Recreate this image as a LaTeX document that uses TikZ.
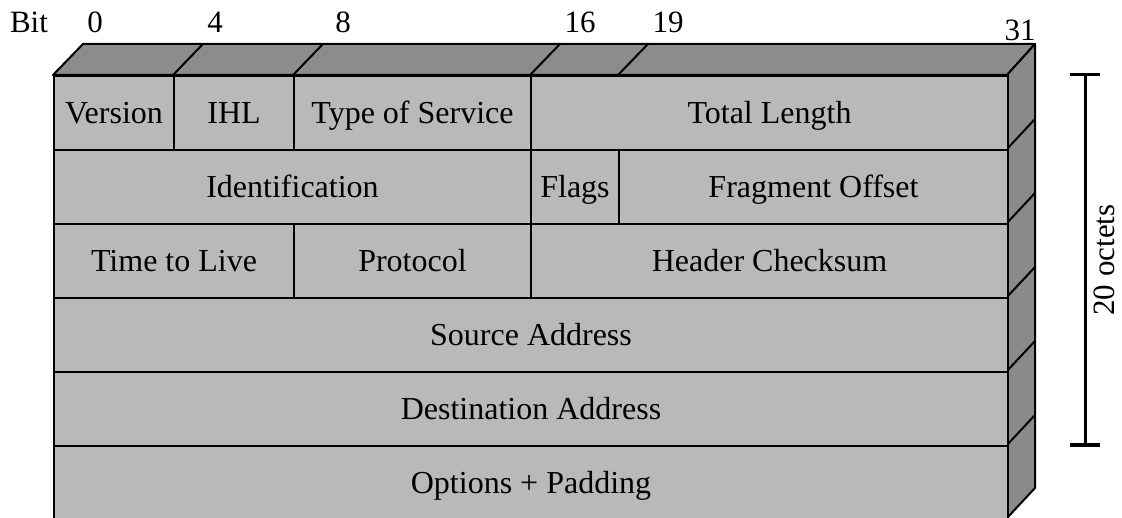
\documentclass[tikz,border=0pt]{standalone}
\usepackage{fontspec}
\setmainfont{Liberation Serif}
\definecolor{frontgray}{RGB}{185,185,185}
\definecolor{topgray}{RGB}{140,140,140}
\definecolor{sidegray}{RGB}{138,138,138}
\tikzset{
  cell/.style={draw=black, line width=2pt, fill=frontgray, anchor=north west,
    minimum height=74pt, inner sep=0pt, text height=24pt, text depth=3pt,
    font=\fontsize{32}{36}\selectfont},
  face/.style={draw=black, line width=2pt, line join=round},
  lbl/.style={font=\fontsize{31}{36}\selectfont, inner sep=0pt, text height=21pt, text depth=0pt},
}
\begin{document}
\begin{tikzpicture}[x=1pt,y=-1pt]
\useasboundingbox (0,0) rectangle (1122,518);
% top face
\draw[face, fill=topgray] (53,75) -- (83,44) -- (1035,44) -- (1007,75) -- cycle;
\foreach \xx in {173,293,530,618} \draw[face] (\xx,75) -- (\xx+30,44);
% right face
\draw[face, fill=sidegray] (1007,75) -- (1035,44) -- (1035,488) -- (1007,518) -- cycle;
\foreach \yy in {149,223,297,371,445} \draw[face] (1007,\yy) -- (1035,\yy-30);
% row 1
\node[cell, minimum width=120pt] (ver) at (53,75) {Version};
\node[cell, minimum width=120pt] (ihl) at (173,75) {IHL};
\node[cell, minimum width=237pt] (tos) at (293,75) {Type of Service};
\node[cell, minimum width=477pt] (tlen) at (530,75) {Total Length};
% row 2
\node[cell, minimum width=477pt] (ident) at (53,149) {Identification};
\node[cell, minimum width=88pt] (flags) at (530,149) {Flags};
\node[cell, minimum width=389pt] (frag) at (618,149) {Fragment Offset};
% row 3
\node[cell, minimum width=240pt] (ttl) at (53,223) {Time to Live};
\node[cell, minimum width=237pt] (proto) at (293,223) {Protocol};
\node[cell, minimum width=477pt] (csum) at (530,223) {Header Checksum};
% rows 4-6
\node[cell, minimum width=954pt] (src) at (53,297) {Source Address};
\node[cell, minimum width=954pt] (dst) at (53,371) {Destination Address};
\node[cell, minimum width=954pt] (opt) at (53,445) {Options + Padding};
% bit labels
\node[lbl] (bit) at (29,22) {Bit};
\node[lbl] (b0) at (95,22) {0};
\node[lbl] (b4) at (215,22) {4};
\node[lbl] (b8) at (343,22) {8};
\node[lbl] (b16) at (580,22) {16};
\node[lbl] (b19) at (668,22) {19};
\node[lbl] (b31) at (1020,30) {31};
% bracket
\coordinate (bt) at (1085,75);
\coordinate (bb) at (1085,445);
\draw[line width=3pt] (bt) -- (bb);
\draw[line width=3pt] ([xshift=-15pt]bt) -- ([xshift=15pt]bt);
\draw[line width=3pt] ([xshift=-15pt]bb) -- ([xshift=15pt]bb);
\node[lbl, rotate=90, text depth=6pt] (oct) at (1107,260) {20 octets};
\end{tikzpicture}
\end{document}
